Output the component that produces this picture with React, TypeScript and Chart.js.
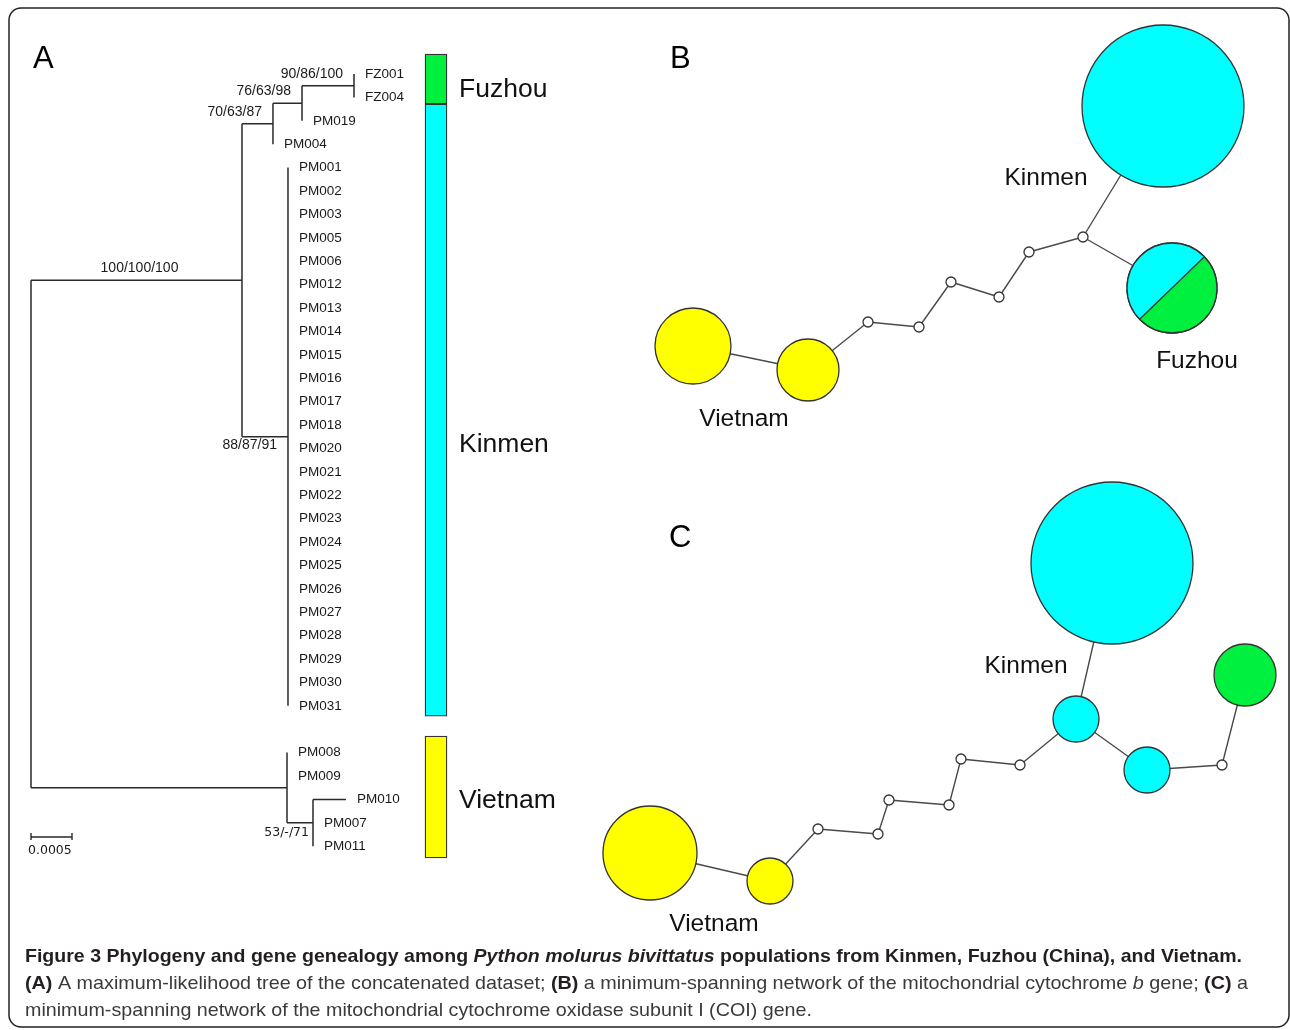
import React, { useEffect, useRef } from "react";
import { Chart, registerables } from "chart.js";
Chart.register(...registerables);

const CANVAS_W = 1290;
const CANVAS_H = 1030;

// ---------------- Panel A: ML tree ----------------
const fuzhouTips = ["FZ001", "FZ004"];
const kinmenOuterTips = ["PM019", "PM004"];
const kinmenTips = [
  "PM001", "PM002", "PM003", "PM005", "PM006", "PM012", "PM013", "PM014",
  "PM015", "PM016", "PM017", "PM018", "PM020", "PM021", "PM022", "PM023",
  "PM024", "PM025", "PM026", "PM027", "PM028", "PM029", "PM030", "PM031",
];
const vietnamTips = ["PM008", "PM009", "PM010", "PM007", "PM011"];
const bootstrap = ["100/100/100", "70/63/87", "76/63/98", "90/86/100", "88/87/91", "53/-/71"];
const supportBelow = ["88/87/91", "53/-/71"];
// branch lengths (substitutions / site)
const branchKinFuz = 0.002573;
const branchCladeA = 0.000378;
const branchCladeB = 0.000354;
const branchFuzhou = 0.000634;
const branchKinmen = 0.000561;
const branchVietnam = 0.003122;
const branchVietSub = 0.000317;
const branchPM010 = 0.000402;
const scaleBarValue = 0.0005;
const scaleBarLabel = "0.0005";

// population bars (in tip-row units)
const groupNames = ["Fuzhou", "Kinmen", "Vietnam"];
const groupRowFrom = [-0.85, 1.28, 28.29];
const groupRowTo = [1.28, 27.44, 33.5];
const groupColors = ["#00F040", "#00FFFF", "#FFFF00"];

// ---------------- Panel B: cyt b network ----------------
const netBPop = ["K", "V", "V", "m", "m", "m", "m", "m", "m", "KF"];
const netBSize = [81, 38, 31, 5, 5, 5, 5, 5, 5, 45];
const netBX = [1163, 693, 808, 868, 919, 951, 999, 1029, 1083, 1172];
const netBY = [106, 346, 370, 322, 327, 282, 297, 252, 237, 288];
const netBEdges = [[1, 2], [2, 3], [3, 4], [4, 5], [5, 6], [6, 7], [7, 8], [8, 0], [8, 9]];
const netBPieShares = [0.5, 0.5]; // Kinmen, Fuzhou
const netBPieStartDeg = -44;

// ---------------- Panel C: COI network ----------------
const netCPop = ["K", "K", "K", "F", "m", "V", "V", "m", "m", "m", "m", "m", "m"];
const netCSize = [81, 23, 23, 31, 5, 47, 23, 5, 5, 5, 5, 5, 5];
const netCX = [1112, 1076, 1147, 1245, 1222, 650, 770, 818, 878, 889, 949, 961, 1020];
const netCY = [563, 719, 770, 675, 765, 853, 881, 829, 834, 800, 805, 759, 765];
const netCEdges = [[5, 6], [6, 7], [7, 8], [8, 9], [9, 10], [10, 11], [11, 12], [12, 1], [1, 0], [1, 2], [2, 4], [4, 3]];

const popColor: Record<string, string> = {
  K: "#00FFFF",
  V: "#FFFF00",
  F: "#00F040",
  KF: "#00FFFF",
  m: "#FFFFFF",
};

const captionLines = [
  [
    { t: "Figure 3 Phylogeny and gene genealogy among ", b: true },
    { t: "Python molurus bivittatus", b: true, i: true },
    { t: " populations from Kinmen, Fuzhou (China), and Vietnam.", b: true },
  ],
  [
    { t: "(A)", b: true },
    { t: " A maximum-likelihood tree of the concatenated dataset; " },
    { t: "(B)", b: true },
    { t: " a minimum-spanning network of the mitochondrial cytochrome " },
    { t: "b", i: true },
    { t: " gene; " },
    { t: "(C)", b: true },
    { t: " a" },
  ],
  [{ t: "minimum-spanning network of the mitochondrial cytochrome oxidase subunit I (COI) gene." }],
];

// ---------------- layout constants (pixels) ----------------
const TREE_PX_PER_UNIT = 82000;
const TREE_ROOT_PX = 31;
const ROW_PX = 23.4;
const ROW0_PX = 74;

type Seg = { t: string; b?: boolean; i?: boolean };
type TNode = {
  name?: string;
  len: number;
  support?: string;
  gap?: number;
  children?: TNode[];
  x?: number;
  y?: number;
  parent?: TNode;
};

const tip = (name: string, len = 0): TNode => ({ name, len });

function buildTree(): TNode {
  return {
    len: 0,
    children: [
      {
        len: branchKinFuz,
        support: bootstrap[0],
        children: [
          {
            len: branchCladeA,
            support: bootstrap[1],
            children: [
              {
                len: branchCladeB,
                support: bootstrap[2],
                children: [
                  { len: branchFuzhou, support: bootstrap[3], children: fuzhouTips.map((n) => tip(n)) },
                  tip(kinmenOuterTips[0]),
                ],
              },
              tip(kinmenOuterTips[1]),
            ],
          },
          { len: branchKinmen, support: bootstrap[4], children: kinmenTips.map((n) => tip(n)) },
        ],
      },
      {
        len: branchVietnam,
        gap: 1,
        children: [
          tip(vietnamTips[0]),
          tip(vietnamTips[1]),
          {
            len: branchVietSub,
            support: bootstrap[5],
            children: [tip(vietnamTips[2], branchPM010), tip(vietnamTips[3]), tip(vietnamTips[4])],
          },
        ],
      },
    ],
  };
}

function layoutTree(root: TNode) {
  let row = 0;
  const all: TNode[] = [];
  const walk = (n: TNode, x0: number, parent?: TNode) => {
    n.parent = parent;
    n.x = x0 + n.len;
    if (n.gap) row += n.gap;
    all.push(n);
    if (!n.children) {
      n.y = row++;
    } else {
      n.children.forEach((c) => walk(c, n.x as number, n));
      n.y = ((n.children[0].y as number) + (n.children[n.children.length - 1].y as number)) / 2;
    }
  };
  walk(root, 0);
  return all;
}

type P = { x: number | null; y: number | null };
const GAP: P = { x: null, y: null };

function treeSegments(all: TNode[]): P[] {
  const pts: P[] = [];
  for (const n of all) {
    if (!n.children) continue;
    const first = n.children[0];
    const last = n.children[n.children.length - 1];
    pts.push({ x: n.x!, y: first.y! }, { x: n.x!, y: last.y! }, GAP);
    for (const c of n.children) {
      if (c.len > 0) pts.push({ x: n.x!, y: c.y! }, { x: c.x!, y: c.y! }, GAP);
    }
  }
  return pts;
}

function edgeSegments(xs: number[], ys: number[], edges: number[][]): P[] {
  const pts: P[] = [];
  for (const [a, b] of edges) {
    pts.push({ x: xs[a], y: ys[a] }, { x: xs[b], y: ys[b] }, GAP);
  }
  return pts;
}

function drawRich(ctx: CanvasRenderingContext2D, segs: Seg[], x: number, y: number, targetW: number, size: number) {
  const fam = '"Liberation Sans Narrow", "Liberation Sans", Arial, sans-serif';
  const fontOf = (s: Seg) => `${s.i ? "italic " : ""}${s.b ? "bold " : ""}${size}px ${fam}`;
  let total = 0;
  for (const s of segs) {
    ctx.font = fontOf(s);
    total += ctx.measureText(s.t).width;
  }
  const sx = targetW / total;
  ctx.save();
  ctx.translate(x, y);
  ctx.scale(sx, 1);
  let cx = 0;
  for (const s of segs) {
    ctx.font = fontOf(s);
    ctx.fillStyle = s.b ? "#231f20" : "#3a3a3a";
    ctx.fillText(s.t, cx, 0);
    cx += ctx.measureText(s.t).width;
  }
  ctx.restore();
}

export default function App() {
  const ref = useRef<HTMLCanvasElement>(null);

  useEffect(() => {
    const canvas = ref.current;
    if (!canvas) return;
    const root = buildTree();
    const all = layoutTree(root);
    const tips = all.filter((n) => !n.children);
    const internals = all.filter((n) => n.children && n.support);

    const xtMin = -TREE_ROOT_PX / TREE_PX_PER_UNIT;
    const xtMax = xtMin + CANVAS_W / TREE_PX_PER_UNIT;
    const ytMin = -ROW0_PX / ROW_PX;
    const ytMax = ytMin + CANVAS_H / ROW_PX;

    const barY = 837;
    const scaleBarPts: P[] = [
      { x: 0, y: barY }, { x: scaleBarValue, y: barY }, GAP,
      { x: 0, y: barY - 4 }, { x: 0, y: barY + 3 }, GAP,
      { x: scaleBarValue, y: barY - 4 }, { x: scaleBarValue, y: barY + 3 },
    ];

    const bubbleData = (xs: number[], ys: number[], rs: number[]) =>
      xs.map((x, i) => ({ x, y: ys[i], r: rs[i] }));

    const plugin = {
      id: "figDecor",
      beforeDraw(chart: any) {
        const ctx = chart.ctx as CanvasRenderingContext2D;
        ctx.save();
        ctx.fillStyle = "#ffffff";
        ctx.fillRect(0, 0, chart.width, chart.height);
        ctx.restore();
      },
      afterDatasetsDraw(chart: any) {
        const ctx = chart.ctx as CanvasRenderingContext2D;
        const xn = chart.scales.xn;
        const yn = chart.scales.yn;
        // Fuzhou/Kinmen shared haplotype pie in panel B
        const idx = netBPop.indexOf("KF");
        const cx = xn.getPixelForValue(netBX[idx]);
        const cy = yn.getPixelForValue(netBY[idx]);
        const r = netBSize[idx];
        const a0 = (netBPieStartDeg * Math.PI) / 180;
        const aK = a0 - netBPieShares[0] * Math.PI * 2;
        ctx.save();
        ctx.beginPath();
        ctx.moveTo(cx, cy);
        ctx.arc(cx, cy, r, aK, a0, false);
        ctx.closePath();
        ctx.fillStyle = popColor.K;
        ctx.fill();
        ctx.beginPath();
        ctx.moveTo(cx, cy);
        ctx.arc(cx, cy, r, a0, a0 + netBPieShares[1] * Math.PI * 2, false);
        ctx.closePath();
        ctx.fillStyle = popColor.F;
        ctx.fill();
        ctx.strokeStyle = "#333";
        ctx.lineWidth = 1.3;
        ctx.beginPath();
        ctx.moveTo(cx + r * Math.cos(a0), cy + r * Math.sin(a0));
        ctx.lineTo(cx + r * Math.cos(aK), cy + r * Math.sin(aK));
        ctx.stroke();
        ctx.beginPath();
        ctx.arc(cx, cy, r, 0, Math.PI * 2);
        ctx.stroke();
        ctx.restore();
      },
      afterDraw(chart: any) {
        const ctx = chart.ctx as CanvasRenderingContext2D;
        const xt = chart.scales.xt;
        const yt = chart.scales.yt;
        const xn = chart.scales.xn;
        const yn = chart.scales.yn;
        const sans = '"Liberation Sans", Arial, sans-serif';
        ctx.save();
        ctx.textBaseline = "middle";

        // panel letters
        ctx.fillStyle = "#000";
        ctx.font = `31px ${sans}`;
        ctx.textAlign = "left";
        ctx.fillText("A", xn.getPixelForValue(33), yn.getPixelForValue(59));
        ctx.fillText("B", xn.getPixelForValue(670), yn.getPixelForValue(59));
        ctx.fillText("C", xn.getPixelForValue(669), yn.getPixelForValue(538));

        // tip labels
        ctx.fillStyle = "#1a1a1a";
        ctx.font = `13.5px ${sans}`;
        for (const t of tips) {
          ctx.fillText(t.name as string, xt.getPixelForValue(t.x) + 11, yt.getPixelForValue(t.y));
        }

        // support values
        for (const n of internals) {
          const nx = xt.getPixelForValue(n.x);
          const px0 = xt.getPixelForValue(n.parent!.x);
          const py = yt.getPixelForValue(n.y);
          const below = supportBelow.includes(n.support as string);
          const dejavu = (n.support as string).includes("-");
          ctx.font = dejavu ? `12.5px "DejaVu Sans", sans-serif` : `14px ${sans}`;
          if (nx - px0 > 150) {
            ctx.textAlign = "center";
            ctx.fillText(n.support as string, (nx + px0) / 2 + 3, py - 12);
          } else {
            ctx.textAlign = "right";
            ctx.fillText(n.support as string, nx - (dejavu ? 4 : 11), below ? py + (dejavu ? 10 : 8) : py - 12);
          }
        }

        // scale bar label
        ctx.textAlign = "left";
        ctx.font = `12.5px "DejaVu Sans", sans-serif`;
        ctx.fillText(scaleBarLabel, xt.getPixelForValue(0) - 3, yn.getPixelForValue(851));

        // group labels
        ctx.fillStyle = "#111";
        ctx.font = `26.5px ${sans}`;
        const groupLabelY = [90, 445, 801];
        groupNames.forEach((g, i) => ctx.fillText(g, xn.getPixelForValue(459), yn.getPixelForValue(groupLabelY[i])));

        // network labels
        ctx.font = `24.5px ${sans}`;
        ctx.textAlign = "center";
        const netLabels = [
          { t: "Kinmen", x: 1046, y: 178 },
          { t: "Vietnam", x: 744, y: 419 },
          { t: "Fuzhou", x: 1197, y: 361 },
          { t: "Kinmen", x: 1026, y: 666 },
          { t: "Vietnam", x: 714, y: 924 },
        ];
        for (const l of netLabels) ctx.fillText(l.t, xn.getPixelForValue(l.x), yn.getPixelForValue(l.y));

        // caption
        ctx.textAlign = "left";
        drawRich(ctx, captionLines[0], 25, 957, 1217, 19);
        drawRich(ctx, captionLines[1], 25, 984, 1223, 19);
        drawRich(ctx, captionLines[2], 25, 1011, 787, 19);

        // frame
        ctx.strokeStyle = "#222";
        ctx.lineWidth = 1.5;
        ctx.beginPath();
        (ctx as any).roundRect(9, 8, 1280, 1019, 12);
        ctx.stroke();
        ctx.restore();
      },
    };

    const chart = new Chart(canvas, {
      type: "scatter",
      data: {
        datasets: [
          {
            type: "bubble",
            order: 0,
            data: bubbleData(netBX, netBY, netBSize),
            xAxisID: "xn",
            yAxisID: "yn",
            backgroundColor: netBPop.map((p) => popColor[p]),
            borderColor: "#333",
            borderWidth: 1.3,
            clip: false,
          },
          {
            type: "bubble",
            order: 0,
            data: bubbleData(netCX, netCY, netCSize),
            xAxisID: "xn",
            yAxisID: "yn",
            backgroundColor: netCPop.map((p) => popColor[p]),
            borderColor: "#333",
            borderWidth: 1.3,
            clip: false,
          },
          {
            type: "line",
            order: 1,
            data: edgeSegments(netBX, netBY, netBEdges),
            xAxisID: "xn",
            yAxisID: "yn",
            borderColor: "#4a4a4a",
            borderWidth: 1.4,
            pointRadius: 0,
            showLine: true,
            spanGaps: false,
            fill: false,
          },
          {
            type: "line",
            order: 1,
            data: edgeSegments(netCX, netCY, netCEdges),
            xAxisID: "xn",
            yAxisID: "yn",
            borderColor: "#4a4a4a",
            borderWidth: 1.4,
            pointRadius: 0,
            showLine: true,
            spanGaps: false,
            fill: false,
          },
          {
            type: "line",
            order: 2,
            data: treeSegments(all),
            xAxisID: "xt",
            yAxisID: "yt",
            borderColor: "#2a2a2a",
            borderWidth: 1.5,
            pointRadius: 0,
            showLine: true,
            spanGaps: false,
            fill: false,
          },
          {
            type: "line",
            order: 2,
            data: scaleBarPts,
            xAxisID: "xt",
            yAxisID: "yn",
            borderColor: "#2a2a2a",
            borderWidth: 1.4,
            pointRadius: 0,
            showLine: true,
            spanGaps: false,
            fill: false,
          },
          {
            type: "bar",
            order: 3,
            data: groupNames.map((g, i) => ({ x: 436, y: [groupRowFrom[i], groupRowTo[i]] })),
            xAxisID: "xn",
            yAxisID: "yt",
            backgroundColor: groupColors,
            borderColor: "#333",
            borderWidth: 1.3,
            borderSkipped: false,
            barThickness: 22,
            grouped: false,
          } as any,
        ],
      } as any,
      options: {
        animation: false,
        responsive: false,
        events: [],
        layout: { padding: 0, autoPadding: false },
        plugins: { legend: { display: false }, tooltip: { enabled: false }, title: { display: false } },
        scales: {
          xt: { type: "linear", axis: "x", display: false, offset: false, min: xtMin, max: xtMax },
          yt: { type: "linear", axis: "y", display: false, offset: false, min: ytMin, max: ytMax, reverse: true },
          xn: { type: "linear", axis: "x", display: false, offset: false, min: 0, max: CANVAS_W },
          yn: { type: "linear", axis: "y", display: false, offset: false, min: 0, max: CANVAS_H, reverse: true },
        },
      } as any,
      plugins: [plugin],
    });
    return () => chart.destroy();
  }, []);

  return (
    <div style={{ position: "absolute", left: 0, top: 0, width: CANVAS_W, height: CANVAS_H, background: "#fff" }}>
      <canvas
        ref={ref}
        width={CANVAS_W}
        height={CANVAS_H}
        style={{ display: "block", width: CANVAS_W, height: CANVAS_H }}
      />
    </div>
  );
}
